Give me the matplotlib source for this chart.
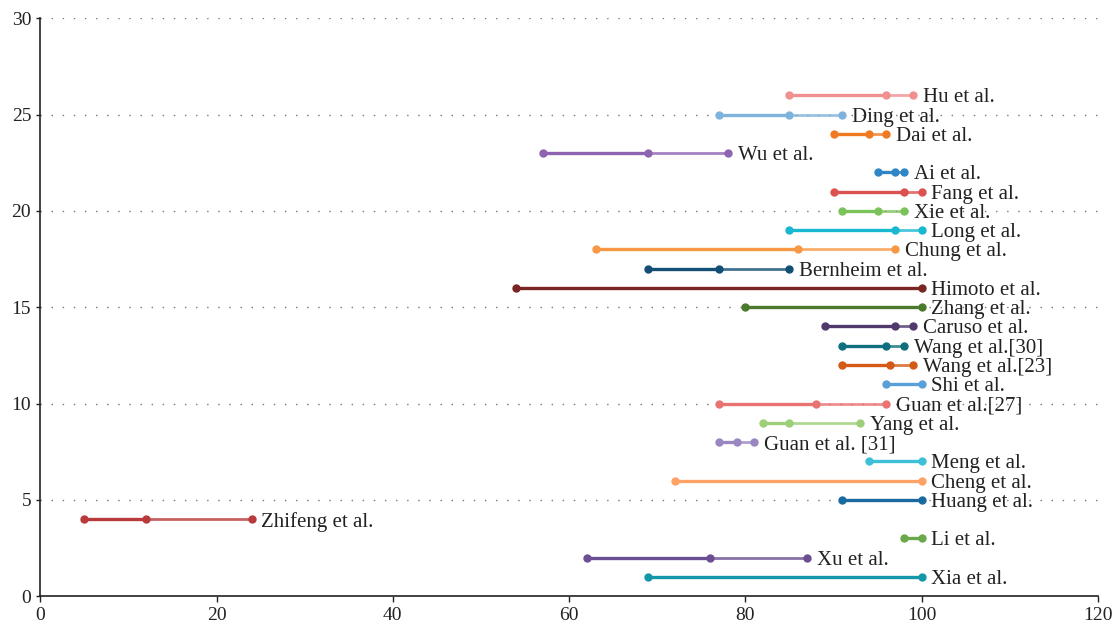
import matplotlib
matplotlib.use("Agg")
import matplotlib.pyplot as plt

# studies, bottom to top (row = position on y axis)
studies = [
    "Xia et al.", "Xu et al.", "Li et al.", "Zhifeng et al.", "Huang et al.",
    "Cheng et al.", "Meng et al.", "Guan et al. [31]", "Yang et al.",
    "Guan et al.[27]", "Shi et al.", "Wang et al.[23]", "Wang et al.[30]",
    "Caruso et al.", "Zhang et al.", "Himoto et al.", "Bernheim et al.",
    "Chung et al.", "Long et al.", "Xie et al.", "Fang et al.", "Ai et al.",
    "Wu et al.", "Dai et al.", "Ding et al.", "Hu et al.",
]
rows = list(range(1, 27))

# low / middle / high values (None where a study has only two points)
low = [69, 62, 98, 5, 91, 72, 94, 77, 82, 77, 96, 91, 91, 89, 80, 54, 69,
       63, 85, 91, 90, 95, 57, 90, 77, 85]
mid = [None, 76, None, 12, None, None, None, 79, 85, 88, None, 96.4, 96, 97,
       None, None, 77, 86, 97, 95, 98, 97, 69, 94, 85, 96]
high = [100, 87, 100, 24, 100, 100, 100, 81, 93, 96, 100, 99, 98, 99, 100,
        100, 85, 97, 100, 98, 100, 98, 78, 96, 91, 99]

colors = [
    "#1497a8", "#6b4f92", "#6aa84a", "#b83a3a", "#1a6aa0",
    "#ffa266", "#3bc0d8", "#9a86c0", "#9ccf78",
    "#e97373", "#5aa0d8", "#d45a15", "#0e6f7f",
    "#4f3a6b", "#4c7a2c", "#7a2424", "#134f75",
    "#f89845", "#17b8d0", "#7cc25a", "#dd5050", "#2f86c7",
    "#8e63b0", "#f07a22", "#7fb3dc", "#f0908f",
]

plt.rcParams["font.family"] = ["Liberation Serif", "DejaVu Serif"]

fig = plt.figure(figsize=(11.17, 6.27), dpi=100)
ax = fig.add_axes([0.036, 0.049, 0.947, 0.922])

for y, name, lo, md, hi, c in zip(rows, studies, low, mid, high, colors):
    if md is None:
        ax.plot([lo, hi], [y, y], color=c, lw=2.4, solid_capstyle="butt",
                zorder=3)
        ax.plot([lo, hi], [y, y], "o", color=c, ms=5, zorder=4)
    else:
        ax.plot([lo, md], [y, y], color=c, lw=2.4, solid_capstyle="butt",
                zorder=3)
        ax.plot([md, hi], [y, y], color=c, lw=2.0, alpha=0.8,
                solid_capstyle="butt", zorder=3)
        ax.plot([lo, md, hi], [y, y, y], "o", color=c, ms=5, zorder=4)
    ax.annotate(name, (hi, y), xytext=(7, 0), textcoords="offset points",
                va="center_baseline", ha="left", fontsize=15,
                color="#222222", zorder=5)

ax.set_xlim(0, 120)
ax.set_ylim(0, 30)
ax.set_xticks([0, 20, 40, 60, 80, 100, 120])
ax.set_yticks([0, 5, 10, 15, 20, 25, 30])

ax.yaxis.grid(True, linestyle=(0, (1, 7)), color="#777777", lw=1)
ax.set_axisbelow(True)

for s in ["top", "right"]:
    ax.spines[s].set_visible(False)
for s in ["left", "bottom"]:
    ax.spines[s].set_color("#222222")
    ax.spines[s].set_linewidth(1.2)

ax.tick_params(axis="x", length=4, width=1, labelsize=14, colors="#222222")
ax.tick_params(axis="y", length=3, width=1, labelsize=14, colors="#222222")

fig.savefig("out.png", dpi=100)
